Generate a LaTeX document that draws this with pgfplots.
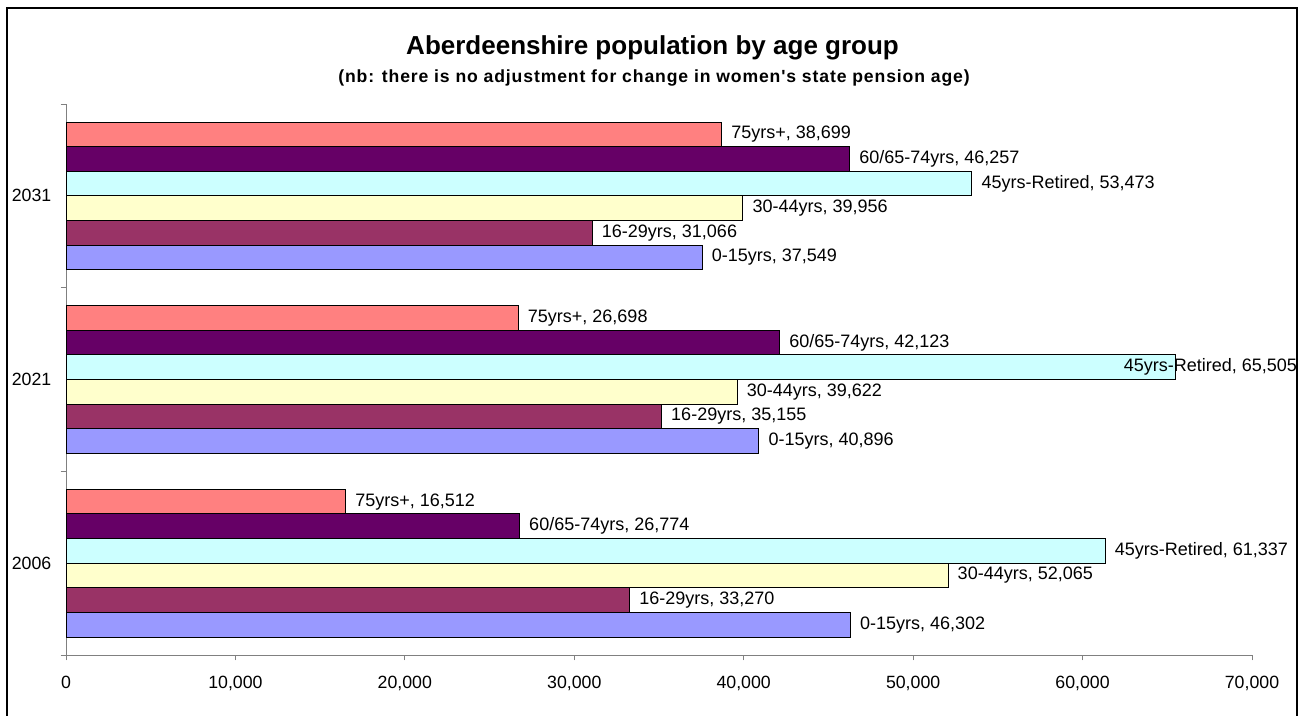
\documentclass[border=0pt]{standalone}
\usepackage{fontspec}
\setmainfont{Liberation Sans}
\newfontfamily\subfont[LetterSpace=5]{Liberation Sans}
\usepackage{pgfplots}
\pgfplotsset{compat=1.18}
\definecolor{cA}{HTML}{9999FF}
\definecolor{cB}{HTML}{993366}
\definecolor{cC}{HTML}{FFFFCC}
\definecolor{cD}{HTML}{CCFFFF}
\definecolor{cE}{HTML}{660066}
\definecolor{cF}{HTML}{FF8080}
\definecolor{axgray}{HTML}{808080}
\begin{document}
\begin{tikzpicture}
\useasboundingbox (0,0) rectangle (977.25pt,536.25pt);
\draw[line width=1.5pt] (5.25pt,-5pt) rectangle (972.75pt,530.25pt);
\begin{axis}[
  at={(49.5pt,45pt)}, anchor=south west,
  scale only axis, width=889.5pt, height=413.25pt,
  xmin=0, xmax=70000, ymin=-0.5, ymax=2.5,
  xbar, bar width=0.134,
  axis x line*=bottom, axis y line*=left,
  axis line style={draw=axgray, line width=0.75pt},
  xtick={0,10000,20000,30000,40000,50000,60000,70000},
  scaled x ticks=false,
  /pgf/number format/1000 sep={,},
  /pgf/number format/assume math mode=true,
  ytick={0,1,2}, yticklabels={2006,2021,2031},
  minor ytick={-0.5,0.5,1.5,2.5},
  tick align=outside,
  major tick length=4pt, minor tick length=4pt,
  tick style={axgray, line width=0.75pt},
  every major y tick/.append style={draw=none},
  ticklabel style={font=\fontsize{13.3}{16}\selectfont, black},
  xticklabel style={yshift=-8pt},
  yticklabel style={xshift=-3.5pt},
  point meta=explicit symbolic,
  nodes near coords,
  nodes near coords style={anchor=west, xshift=3.5pt, font=\fontsize{13.5}{16}\selectfont, text=black},
  every axis plot/.append style={draw=black, line width=0.75pt},
  clip=false,
]
\addplot[fill=cA, bar shift=-0.335] coordinates {(46302,0) [0-15yrs, 46,302] (40896,1) [0-15yrs, 40,896] (37549,2) [0-15yrs, 37,549]};
\addplot[fill=cB, bar shift=-0.201] coordinates {(33270,0) [16-29yrs, 33,270] (35155,1) [16-29yrs, 35,155] (31066,2) [16-29yrs, 31,066]};
\addplot[fill=cC, bar shift=-0.067] coordinates {(52065,0) [30-44yrs, 52,065] (39622,1) [30-44yrs, 39,622] (39956,2) [30-44yrs, 39,956]};
\addplot[fill=cD, bar shift=0.067] coordinates {(61337,0) [45yrs-Retired, 61,337] (53473,2) [45yrs-Retired, 53,473]};
\addplot[fill=cD, bar shift=0.067, nodes near coords style={anchor=east, xshift=91pt}] coordinates {(65505,1) [45yrs-Retired, 65,505]};
\addplot[fill=cE, bar shift=0.201] coordinates {(26774,0) [60/65-74yrs, 26,774] (42123,1) [60/65-74yrs, 42,123] (46257,2) [60/65-74yrs, 46,257]};
\addplot[fill=cF, bar shift=0.335] coordinates {(16512,0) [75yrs+, 16,512] (26698,1) [75yrs+, 26,698] (38699,2) [75yrs+, 38,699]};
\end{axis}
\node[anchor=base, font=\bfseries\fontsize{19.5}{23}\selectfont] at (489.4pt,495pt) {Aberdeenshire population by age group};
\node[anchor=base, font=\subfont\bfseries\fontsize{13.2}{16}\selectfont] at (490.5pt,474.2pt) {(nb: there is no adjustment for change in women's state pension age)};
\end{tikzpicture}
\end{document}
